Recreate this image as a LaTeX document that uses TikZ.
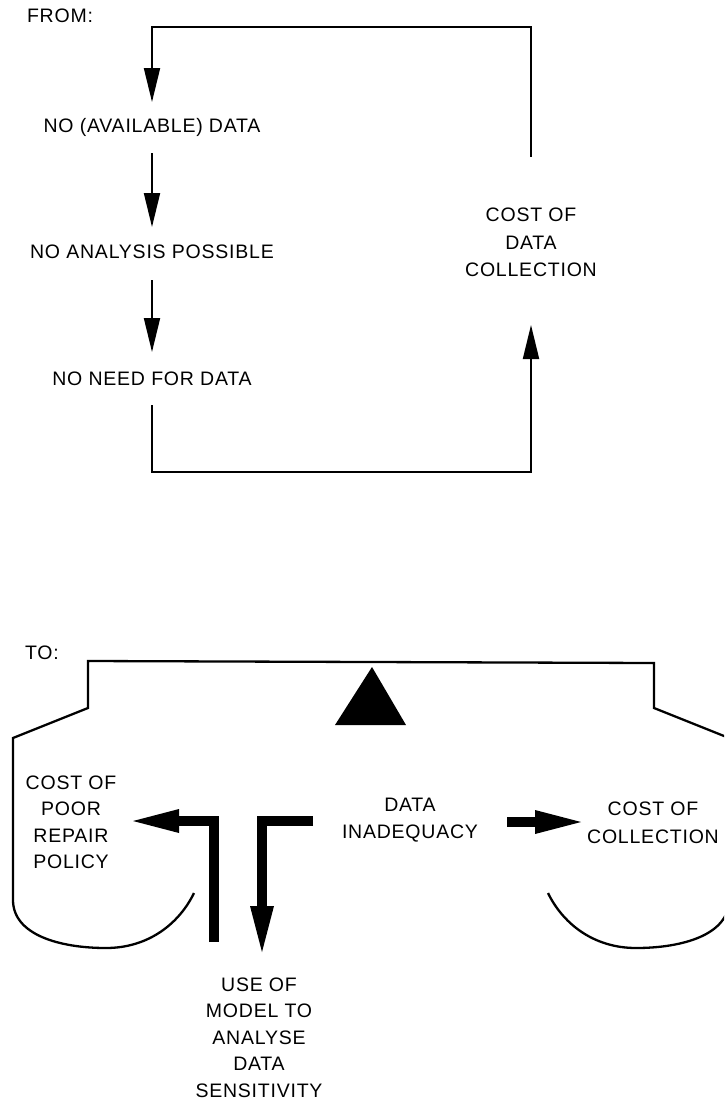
\documentclass[tikz,border=0pt]{standalone}
\usepackage{fontspec}
\setmainfont{Liberation Sans}[LetterSpace=4]
\usetikzlibrary{arrows.meta}
\tikzset{
  lbl/.style={font=\fontsize{19.5}{26.5}\selectfont, align=center, inner sep=0pt},
  thinline/.style={line width=2pt, line join=miter},
  thinhead/.style={-{Triangle[length=34pt,width=16pt]}},
  outline/.style={line width=2.3pt, line join=miter},
  bigarrow/.style={line width=10pt, line join=miter, -{Triangle[length=46pt,width=24pt,line width=0pt]}},
}
\begin{document}
\begin{tikzpicture}[x=1pt,y=-1pt]
\useasboundingbox (0,0) rectangle (724,1103);
\clip (0,0) rectangle (724,1103);

% ---------- FROM ----------
\node[lbl] (from) at (60,16) {FROM:};
\node[lbl] (avail) at (152,127) {NO (AVAILABLE) DATA};
\node[lbl] (analysis) at (152,252) {NO ANALYSIS POSSIBLE};
\node[lbl] (needdata) at (152,379) {NO NEED FOR DATA};
\node[lbl, font=\fontsize{19.5}{27.5}\selectfont] (costdata) at (531,242.5) {COST OF\\DATA\\COLLECTION};

\draw[thinline, thinhead] ([yshift=86pt]costdata.center) -- ++(0,-130) -| ([yshift=25pt]avail.center);
\draw[thinline, thinhead, shorten <=26pt, shorten >=25pt] (avail.center) -- (analysis.center);
\draw[thinline, thinhead, shorten <=28pt, shorten >=27pt] (analysis.center) -- (needdata.center);
\draw[thinline, thinhead] ([yshift=-26pt]needdata.center) -- ++(0,67) -| ([yshift=-82.5pt]costdata.center);

% ---------- TO ----------
\node[lbl] (to) at (42,653) {TO:};
\node[lbl] (poor) at (71,822.5) {COST OF\\POOR\\REPAIR\\POLICY};
\node[lbl] (inadeq) at (410,820) {DATA\\INADEQUACY};
\node[lbl, font=\fontsize{19.5}{28}\selectfont] (coll) at (653,823) {COST OF\\COLLECTION};
\node[lbl] (usemodel) at (259,1037.5) {USE OF\\MODEL TO\\ANALYSE\\DATA\\SENSITIVITY};

% outline
\draw[outline] (194,893) .. controls (180,922) and (150,948) .. (106,948)
  .. controls (60,948) and (13,935) .. (13,900)
  -- (13,738) -- (88,708) -- (88,661) -- (654,663) -- (654,708) -- (729,738)
  -- (729,900) .. controls (729,935) and (682,948) .. (636,948)
  .. controls (592,948) and (562,922) .. (548,893);

% central triangle
\fill (372,667) -- (335,725) -- (406,725) -- cycle;

% thick arrows
\coordinate (lbstart) at (214,942);
\coordinate (lbtip) at (133,821);
\coordinate (rbstart) at (313,821);
\coordinate (rbtip) at (262,952);
\coordinate (rstart) at (507,822);
\coordinate (rtip) at (581,822);
\draw[bigarrow] (lbstart) |- (lbtip);
\draw[bigarrow] (rbstart) -| (rbtip);
\draw[bigarrow] (rstart) -- (rtip);
\end{tikzpicture}
\end{document}
